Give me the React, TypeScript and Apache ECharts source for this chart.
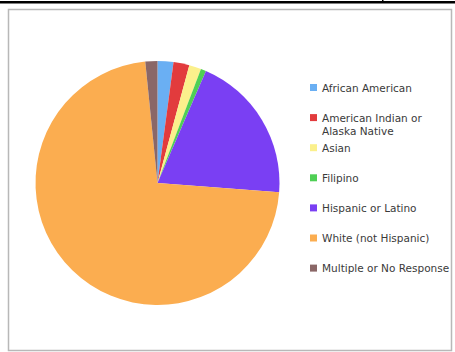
import React, { useEffect, useRef } from "react";
import * as echarts from "echarts";

const categories = [
  "African American",
  "American Indian or\nAlaska Native",
  "Asian",
  "Filipino",
  "Hispanic or Latino",
  "White (not Hispanic)",
  "Multiple or No Response",
];
const values = [2.1, 2.1, 1.6, 0.7, 19.7, 72.2, 1.6];
const colors = ["#6aaff3", "#e23b3d", "#fbf08c", "#4fcf55", "#7a3ff3", "#fbad50", "#8a6767"];

export default function App() {
  const ref = useRef<HTMLDivElement>(null);
  useEffect(() => {
    if (!ref.current) return;
    const chart = echarts.init(ref.current, null, { renderer: "svg" });
    const legends = categories.map((name, i) => {
      const multi = name.includes("\n");
      return {
        data: [name],
        orient: "vertical",
        left: 310,
        top: 81 + i * 30.1 - (multi ? 13 : 0),
        itemWidth: 7,
        itemHeight: 7,
        icon: "rect",
        selectedMode: false,
        padding: 0,
        formatter: (n: string) => (n.includes("\n") ? " \n" + n : n),
        textStyle: {
          fontFamily: "DejaVu Sans",
          fontSize: 10.5,
          color: "#3a3a3a",
          lineHeight: 13,
        },
      };
    });
    chart.setOption({
      animation: false,
      backgroundColor: "#ffffff",
      color: colors,
      graphic: [
        { type: "rect", shape: { x: 0, y: 1, width: 455, height: 2.5 }, style: { fill: "#000" } },
        { type: "rect", shape: { x: 382, y: 0, width: 1.5, height: 3 }, style: { fill: "#000" } },
        {
          type: "rect",
          shape: { x: 8.5, y: 9.5, width: 443, height: 341 },
          style: { fill: "none", stroke: "#b8b8b8", lineWidth: 1.5 },
        },
      ],
      legend: legends,
      series: [
        {
          type: "pie",
          center: [157.5, 183],
          radius: 122,
          startAngle: 90,
          clockwise: true,
          label: { show: false },
          labelLine: { show: false },
          itemStyle: { borderWidth: 0 },
          emphasis: { disabled: true },
          data: categories.map((name, i) => ({ name, value: values[i] })),
        },
      ],
    });
    return () => chart.dispose();
  }, []);
  return (
    <div
      ref={ref}
      style={{ position: "absolute", left: 0, top: 0, width: 455, height: 352 }}
    />
  );
}
